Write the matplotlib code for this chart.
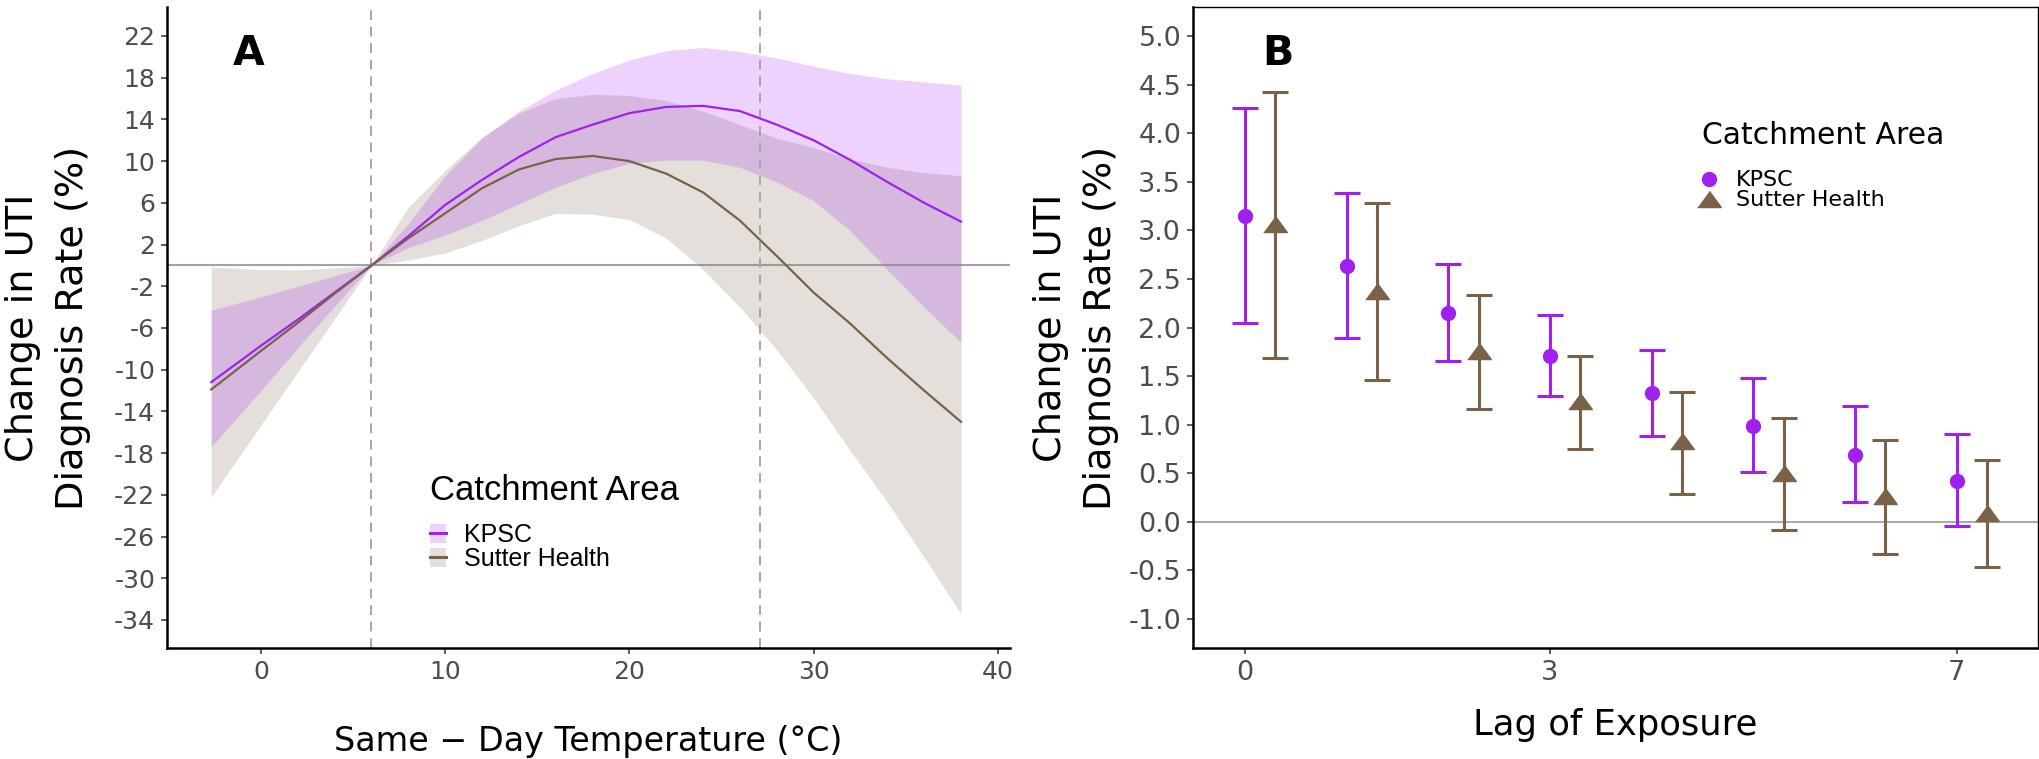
import matplotlib
matplotlib.use("Agg")
import matplotlib.pyplot as plt
from matplotlib.patches import Patch
from matplotlib.lines import Line2D
from matplotlib.font_manager import FontProperties

plt.rcParams['font.family'] = ['DejaVu Sans']

# panel A: change in UTI rate by same-day temperature
temps = [-2.7, 0, 2, 4, 6, 8, 10, 12, 14, 16, 18, 20, 22, 24, 26, 28, 30, 32, 34, 36, 38]
kpsc_est = [-11.2, -7.7, -5.2, -2.6, 0, 2.8, 5.8, 8.2, 10.4, 12.3, 13.5, 14.6, 15.2, 15.3,
            14.8, 13.5, 12.0, 10.1, 8.0, 6.0, 4.2]
kpsc_lo = [-17.4, -12.0, -7.9, -3.9, 0, 1.7, 2.9, 4.3, 5.9, 7.5, 8.8, 9.8, 10.1, 10.1,
           9.4, 8.0, 6.2, 3.3, -0.4, -4.0, -7.4]
kpsc_hi = [-4.3, -3.0, -2.0, -1.0, 0, 4.0, 8.6, 12.2, 14.8, 16.8, 18.4, 19.7, 20.6, 20.9,
           20.5, 19.9, 19.1, 18.4, 17.9, 17.6, 17.3]
sutter_est = [-11.9, -8.2, -5.5, -2.7, 0, 2.6, 5.0, 7.4, 9.2, 10.2, 10.5, 10.0, 8.8, 7.0,
              4.3, 0.9, -2.6, -5.6, -8.9, -12.0, -15.0]
sutter_lo = [-22.2, -15.3, -10.2, -5.1, 0, 0.5, 1.2, 2.4, 3.8, 5.0, 4.9, 4.4, 2.6, -0.4,
             -4.0, -8.1, -12.7, -17.8, -22.7, -28.0, -33.4]
sutter_hi = [-0.15, -0.4, -0.42, -0.25, 0, 5.6, 9.1, 12.3, 14.6, 16.0, 16.4, 16.3, 15.8, 14.8,
             13.5, 12.2, 11.3, 10.2, 9.4, 8.9, 8.6]
ref_temps = [6.0, 27.1]
a_yticks = list(range(22, -35, -4))
a_xticks = [0, 10, 20, 30, 40]

# panel B: lagged effects
lags = [0, 1, 2, 3, 4, 5, 6, 7]
kpsc_lag = [3.15, 2.63, 2.15, 1.71, 1.33, 0.99, 0.69, 0.42]
kpsc_lag_lo = [2.05, 1.89, 1.65, 1.29, 0.88, 0.51, 0.20, -0.04]
kpsc_lag_hi = [4.26, 3.39, 2.65, 2.13, 1.77, 1.48, 1.19, 0.90]
sutter_lag = [3.07, 2.38, 1.76, 1.24, 0.83, 0.50, 0.26, 0.09]
sutter_lag_lo = [1.69, 1.46, 1.16, 0.75, 0.29, -0.08, -0.33, -0.47]
sutter_lag_hi = [4.42, 3.28, 2.33, 1.71, 1.34, 1.07, 0.84, 0.64]
b_xticks = [0, 3, 7]
b_yticks = [x / 2 for x in range(10, -3, -1)]

groups = ["KPSC", "Sutter Health"]
purple = '#A020F0'
brown = '#7A6248'
ylab = "Change in UTI\nDiagnosis Rate (%)"

W, H = 2040, 759
fig = plt.figure(figsize=(W / 100, H / 100), dpi=100)
axA = fig.add_axes([167 / W, 111 / H, 843 / W, 641 / H])
axB = fig.add_axes([1193 / W, 111 / H, 845 / W, 641 / H])

# ---- panel A
axA.fill_between(temps, sutter_lo, sutter_hi, color=brown, alpha=0.2, lw=0, zorder=1)
axA.fill_between(temps, kpsc_lo, kpsc_hi, color=purple, alpha=0.2, lw=0, zorder=1)
axA.axhline(0, color='#8C8C8C', lw=1.5, alpha=0.8, zorder=2)
for t in ref_temps:
    axA.axvline(t, color='#A6A6A6', lw=1.4, dashes=(5, 3.5), zorder=2)
axA.plot(temps, kpsc_est, color=purple, lw=1.6, zorder=3)
axA.plot(temps, sutter_est, color=brown, lw=1.6, zorder=3)

axA.set_xlim(-5.1, 40.66)
axA.set_ylim(-36.69, 24.78)
axA.set_yticks(a_yticks)
axA.set_yticklabels([str(v) for v in a_yticks])
axA.set_xticks(a_xticks)
axA.set_xticklabels([str(v) for v in a_xticks])
for s in ['top', 'right']:
    axA.spines[s].set_visible(False)
for s in ['left', 'bottom']:
    axA.spines[s].set_linewidth(1.8)
axA.tick_params(direction='out', length=4.5, width=1.1, color='#333333',
                labelsize=18, labelcolor='#4D4D4D', pad=4)
axA.set_ylabel(ylab, fontsize=27.5, linespacing=1.5)
axA.yaxis.label.set_va('center')
axA.yaxis.set_label_coords(-0.141, 0.5)
axA.set_xlabel("Same \u2212 Day Temperature (\u00b0C)", fontsize=24)
axA.xaxis.label.set_va('baseline')
axA.xaxis.set_label_coords(0.5, -0.1607)
axA.text(0.078, 0.9095, "A", transform=axA.transAxes, fontsize=29.5,
         fontweight='bold', va='baseline')

lib = 'Liberation Sans'
axA.text(0.312, 0.246, "Catchment Area", transform=axA.transAxes, fontsize=25,
         family=lib, va='center')
handlesA = [(Patch(facecolor=c, alpha=0.2, lw=0), Line2D([], [], color=c, lw=2.2))
            for c in (purple, brown)]
axA.legend(handlesA, groups, loc='upper left', bbox_to_anchor=(0.312, 0.195),
           frameon=False, prop=FontProperties(family=lib, size=18), borderpad=0,
           borderaxespad=0, handlelength=0.65, handleheight=0.8, handletextpad=0.72,
           labelspacing=0)

# ---- panel B
off = 0.3
axB.axhline(0, color='#ABABAB', lw=1.5, zorder=1)
axB.errorbar(lags, kpsc_lag,
             yerr=[[m - l for m, l in zip(kpsc_lag, kpsc_lag_lo)],
                   [h - m for m, h in zip(kpsc_lag, kpsc_lag_hi)]],
             fmt='o', color=purple, ms=10, elinewidth=2.2, capsize=9.5, capthick=2.2,
             zorder=3)
tri = [(-1, -0.68), (1, -0.68), (0, 0.68)]
axB.errorbar([x + off for x in lags], sutter_lag,
             yerr=[[m - l for m, l in zip(sutter_lag, sutter_lag_lo)],
                   [h - m for m, h in zip(sutter_lag, sutter_lag_hi)]],
             fmt='none', ecolor=brown, elinewidth=2.2, capsize=9.5, capthick=2.2,
             zorder=3)
axB.plot([x + off for x in lags], sutter_lag, ls='none', marker=tri, ms=17,
         color=brown, zorder=4)

axB.set_xlim(-0.51, 7.8)
axB.set_ylim(-1.3, 5.3)
axB.set_xticks(b_xticks)
axB.set_xticklabels([str(v) for v in b_xticks])
axB.set_yticks(b_yticks)
axB.set_yticklabels(['%.1f' % v for v in b_yticks])
for s in ['left', 'bottom']:
    axB.spines[s].set_linewidth(1.8)
for s in ['top', 'right']:
    axB.spines[s].set_linewidth(1.0)
axB.tick_params(direction='out', length=4.5, width=1.1, color='#333333',
                labelsize=19.5, labelcolor='#4D4D4D', pad=4)
axB.set_ylabel(ylab, fontsize=27.5, linespacing=1.5)
axB.yaxis.label.set_va('center')
axB.yaxis.set_label_coords(-0.138, 0.5)
axB.set_xlabel("Lag of Exposure", fontsize=25.5)
axB.xaxis.label.set_va('baseline')
axB.xaxis.set_label_coords(0.5, -0.135)
axB.text(0.0817, 0.9095, "B", transform=axB.transAxes, fontsize=29.5,
         fontweight='bold', va='baseline')

axB.text(0.602, 0.799, "Catchment Area", transform=axB.transAxes, fontsize=21.5,
         va='center')
handlesB = [Line2D([], [], ls='none', marker='o', ms=10, color=purple),
            Line2D([], [], ls='none', marker=tri, ms=17, color=brown)]
axB.legend(handlesB, groups, loc='upper left', bbox_to_anchor=(0.598, 0.745),
           frameon=False, fontsize=16, borderpad=0, borderaxespad=0,
           handlelength=1.0, handletextpad=0.7, labelspacing=0)

fig.savefig("out.png", dpi=100)
